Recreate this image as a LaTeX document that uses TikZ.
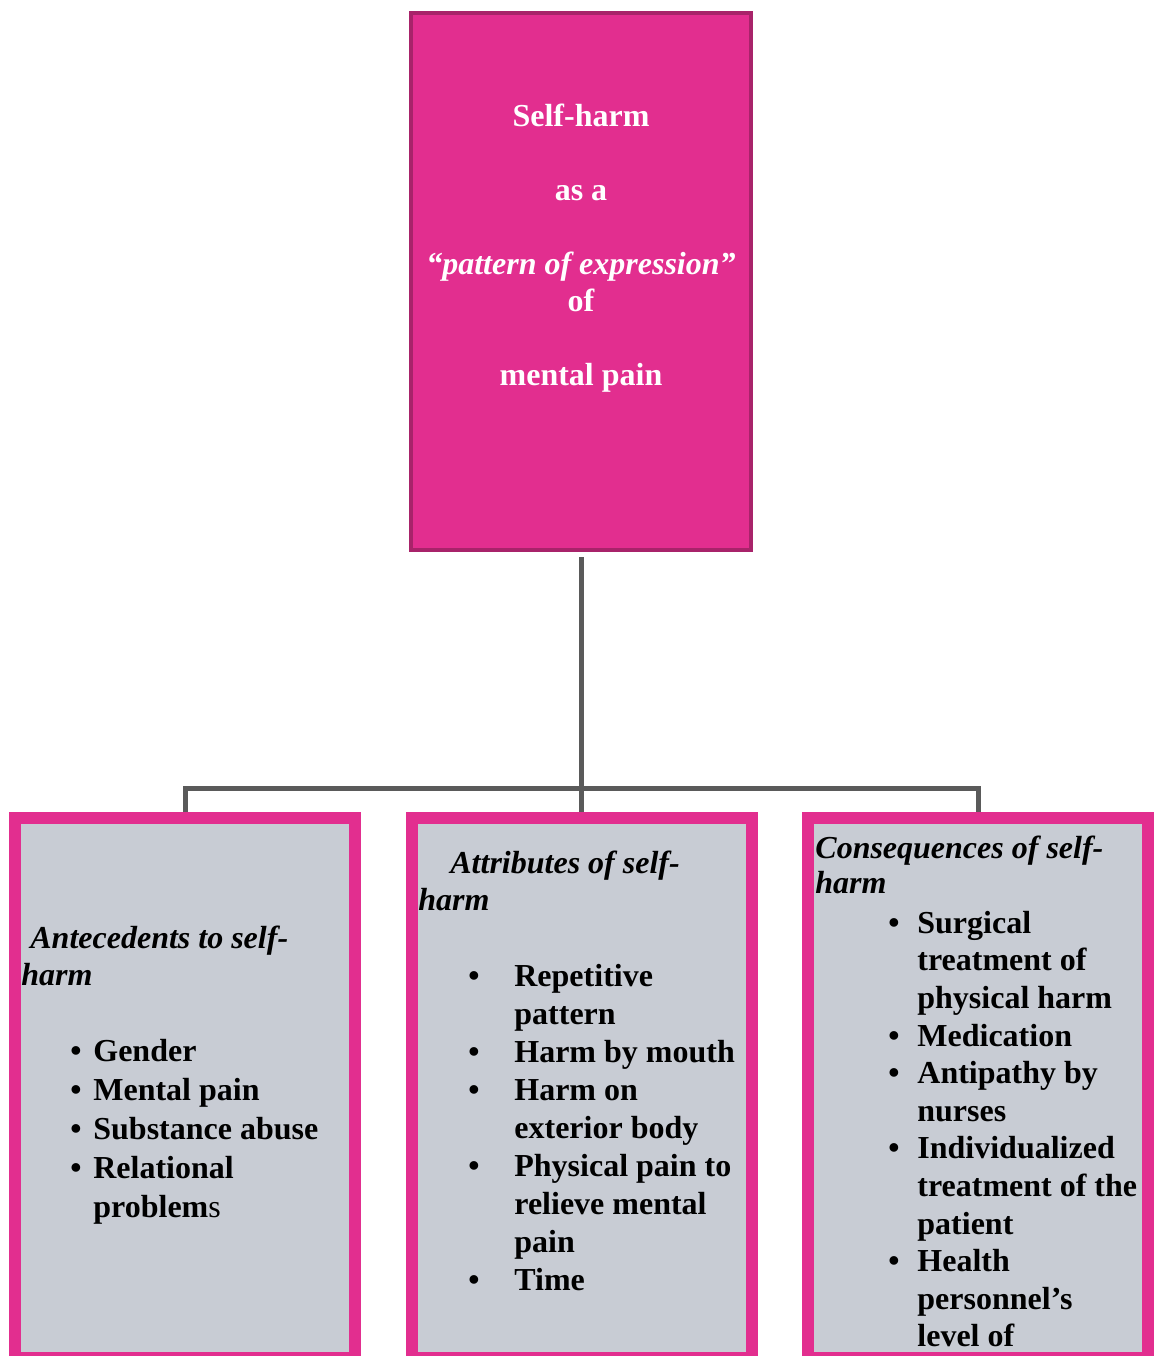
\documentclass[tikz,border=0pt]{standalone}
\usepackage{fontspec}
\setmainfont{Liberation Serif}
\usepackage{xcolor}
\usetikzlibrary{positioning}
\definecolor{harmpink}{HTML}{E22E8F}
\definecolor{harmdark}{HTML}{A8236A}
\definecolor{boxgrey}{HTML}{C8CCD4}
\definecolor{linegrey}{HTML}{5A5A5A}

\begin{document}
\begin{tikzpicture}[x=0.5pt, y=-0.5pt,
    mainbox/.style={draw=harmdark, fill=harmpink, line width=2pt, minimum width=170pt, minimum height=268.5pt, inner sep=0pt},
    subbox/.style={draw=harmpink, fill=boxgrey, line width=6pt, minimum width=170pt, minimum height=270pt, inner sep=0pt},
    conn/.style={draw=linegrey, line width=2.5pt},
    toptext/.style={inner sep=0pt, align=center, text=white, font=\fontsize{16}{18.5}\selectfont\bfseries},
    headtext/.style={anchor=north west, inner sep=0pt, align=left, font=\fontsize{16}{18.5}\selectfont\bfseries\itshape},
    listtext/.style={anchor=north west, inner sep=0pt, font=\fontsize{16}{18.8}\selectfont\bfseries}]
    \useasboundingbox (0,0) rectangle (1154,1356);

    % Main box
    \node[mainbox] (self) at (581,281.5) {};
    \node[toptext] (selftext) at (581,248) {Self-harm\\[18.5pt]as a\\[18.5pt]{\itshape ``pattern of expression''}\\of\\[18.5pt]mental pain};

    % Boxes below
    \node[subbox] (ante) at (185,1088) {};
    \node[subbox] (attr) at (581.5,1088) {};
    \node[subbox] (cons) at (978,1088) {};

    % Connectors
    \coordinate (fork) at (581,788);
    \draw[conn, shorten <=2.5pt] (self.south) -- (fork);
    \draw[conn] (ante.north) |- (fork) -| (cons.north);
    \draw[conn] (fork) -- (fork |- attr.north);

    % Antecedents
    \node[headtext] (antehead) at (21,926) {\hspace*{4.5pt}Antecedents to self-\\harm};
    \node[listtext, font=\fontsize{16}{19.5}\selectfont\bfseries] (antelist) at (70,1034) {%
        \begin{tabular}{@{}p{11.5pt}@{}l@{}}
        \textbullet & Gender\\
        \textbullet & Mental pain\\
        \textbullet & Substance abuse\\
        \textbullet & Relational\\
                    & problem{\mdseries s}
        \end{tabular}};

    % Attributes
    \node[headtext] (attrhead) at (418,851) {\hspace*{16pt}Attributes of self-\\harm};
    \node[listtext, font=\fontsize{16}{19}\selectfont\bfseries] (attrlist) at (468,959) {%
        \begin{tabular}{@{}p{23pt}@{}l@{}}
        \textbullet & Repetitive\\
                    & pattern\\
        \textbullet & Harm by mouth\\
        \textbullet & Harm on\\
                    & exterior body\\
        \textbullet & Physical pain to\\
                    & relieve mental\\
                    & pain\\
        \textbullet & Time
        \end{tabular}};

    % Consequences
    \node[headtext, font=\fontsize{16}{17.5}\selectfont\bfseries\itshape] (conshead) at (815,836) {Consequences of self-\\harm};
    \node[listtext] (conslist) at (888,906.5) {%
        \begin{tabular}{@{}p{14.5pt}@{}l@{}}
        \textbullet & Surgical\\
                    & treatment of\\
                    & physical harm\\
        \textbullet & Medication\\
        \textbullet & Antipathy by\\
                    & nurses\\
        \textbullet & Individualized\\
                    & treatment of the\\
                    & patient\\
        \textbullet & Health\\
                    & personnel's\\
                    & level of
        \end{tabular}};
\end{tikzpicture}
\end{document}
